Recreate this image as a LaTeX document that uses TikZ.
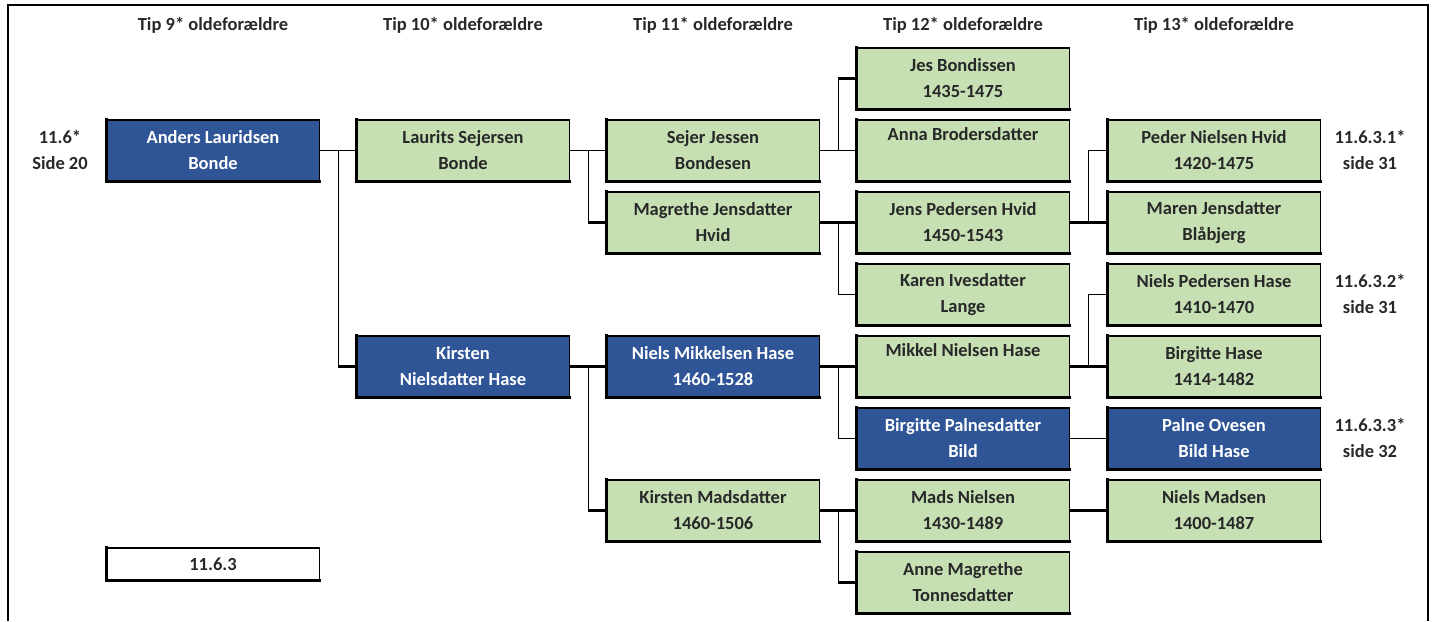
\documentclass[tikz,border=0pt]{standalone}
\usepackage{fontspec}
\setmainfont{Carlito}
\usetikzlibrary{calc}
\definecolor{boxblue}{RGB}{47,85,151}
\definecolor{boxgreen}{RGB}{198,224,180}
\definecolor{txtdark}{RGB}{40,40,40}
\tikzset{
  pbase/.style={rectangle, minimum width=212pt, minimum height=61pt, inner sep=0pt,
    draw=black, line width=0.8pt, align=center,
    font=\bfseries\fontsize{18.5}{26}\selectfont},
  gbox/.style={pbase, fill=boxgreen, text=txtdark},
  bbox/.style={pbase, fill=boxblue, text=white},
  wbox/.style={pbase, fill=white, text=txtdark, minimum height=32pt},
  hdr/.style={font=\bfseries\fontsize{18.5}{22}\selectfont, text=txtdark, inner sep=0pt},
  side/.style={font=\bfseries\fontsize{18.5}{26}\selectfont, text=txtdark, inner sep=0pt, align=center},
  thin/.style={line width=1pt},
  thick/.style={line width=2.3pt},
}
\newcommand{\pbox}[5]{%
  \node[#4] (#1) at (#2,#3) {#5};
  \draw[line width=2.6pt, line cap=rect] (#1.north west) -- (#1.south west) -- (#1.south east);
  \draw[line width=1.8pt, line cap=rect] (#1.north west) -- (#1.north east);
}
\begin{document}
\begin{tikzpicture}[x=1pt,y=-1pt]
\useasboundingbox (0,0) rectangle (1432,621);
% frame
\coordinate (fbl) at (8,621);
\coordinate (ftl) at (8,5);
\coordinate (ftr) at (1428,5);
\coordinate (fbr) at (1428,621);
\draw[line width=2pt] (fbl) -- (ftl) -- (ftr) -- (fbr);
% headers
\node[hdr] (h1) at (213,25) {Tip 9* oldeforældre};
\node[hdr] (h2) at (463,25) {Tip 10* oldeforældre};
\node[hdr] (h3) at (713,25) {Tip 11* oldeforældre};
\node[hdr] (h4) at (963,25) {Tip 12* oldeforældre};
\node[hdr] (h5) at (1214,25) {Tip 13* oldeforældre};
% column 1
\pbox{anders}{213}{150.5}{bbox}{Anders Lauridsen\\Bonde}
\pbox{ref}{213}{564}{wbox}{11.6.3}
% column 2
\pbox{laurits}{463}{150.5}{gbox}{Laurits Sejersen\\Bonde}
\pbox{kirsten}{463}{366.5}{bbox}{Kirsten\\Nielsdatter Hase}
% column 3
\pbox{sejer}{713}{150.5}{gbox}{Sejer Jessen\\Bondesen}
\pbox{magrethe}{713}{222.5}{gbox}{Magrethe Jensdatter\\Hvid}
\pbox{nielsm}{713}{366.5}{bbox}{Niels Mikkelsen Hase\\1460-1528}
\pbox{kirstenm}{713}{510.5}{gbox}{Kirsten Madsdatter\\1460-1506}
% column 4
\pbox{jes}{963}{78.5}{gbox}{Jes Bondissen\\1435-1475}
\pbox{anna}{963}{150.5}{gbox}{Anna Brodersdatter\\\strut}
\pbox{jens}{963}{222.5}{gbox}{Jens Pedersen Hvid\\1450-1543}
\pbox{karen}{963}{294.5}{gbox}{Karen Ivesdatter\\Lange}
\pbox{mikkel}{963}{366.5}{gbox}{Mikkel Nielsen Hase\\\strut}
\pbox{birgittep}{963}{438.5}{bbox}{Birgitte Palnesdatter\\Bild}
\pbox{mads}{963}{510.5}{gbox}{Mads Nielsen\\1430-1489}
\pbox{anne}{963}{582.5}{gbox}{Anne Magrethe\\Tonnesdatter}
% column 5
\pbox{peder}{1214}{150.5}{gbox}{Peder Nielsen Hvid\\1420-1475}
\pbox{maren}{1214}{222.5}{gbox}{Maren Jensdatter\\Blåbjerg}
\pbox{nielsp}{1214}{294.5}{gbox}{Niels Pedersen Hase\\1410-1470}
\pbox{birgitteh}{1214}{366.5}{gbox}{Birgitte Hase\\1414-1482}
\pbox{palne}{1214}{438.5}{bbox}{Palne Ovesen\\Bild Hase}
\pbox{nielsmad}{1214}{510.5}{gbox}{Niels Madsen\\1400-1487}
% side labels
\node[side] (s1) at (60,150) {11.6*\\Side 20};
\node[side] (s2) at (1370,150) {11.6.3.1*\\side 31};
\node[side] (s3) at (1370,294) {11.6.3.2*\\side 31};
\node[side] (s4) at (1370,438) {11.6.3.3*\\side 32};
% connectors
% Anders
\draw[thin] (anders.east) -- (laurits.west);
\coordinate (j1) at ($(anders.east)!0.5!(laurits.west)$);
\draw[thin] (j1) -- (j1 |- kirsten.west);
\draw[thick] (j1 |- kirsten.west) -- (kirsten.west);
% Laurits
\draw[thin] (laurits.east) -- (sejer.west);
\coordinate (j2) at ($(laurits.east)!0.5!(sejer.west)$);
\draw[thin] (j2) -- (j2 |- magrethe.west);
\draw[thick] (j2 |- magrethe.west) -- (magrethe.west);
% Sejer
\draw[thin] (sejer.east) -- (anna.west);
\coordinate (j3) at ($(sejer.east)!0.5!(anna.west)$);
\draw[thin] (j3) -- (j3 |- jes.west);
\draw[thick] (j3 |- jes.west) -- (jes.west);
% Magrethe
\draw[thick] (magrethe.east) -- (jens.west);
\coordinate (j4) at ($(magrethe.east)!0.5!(jens.west)$);
\draw[thin] (j4) |- (karen.west);
% Jens
\draw[thick] (jens.east) -- (maren.west);
\coordinate (j5) at ($(jens.east)!0.5!(maren.west)$);
\draw[thin] (j5) |- (peder.west);
% Kirsten
\draw[thick] (kirsten.east) -- (nielsm.west);
\coordinate (j6) at ($(kirsten.east)!0.5!(nielsm.west)$);
\draw[thin] (j6) -- (j6 |- kirstenm.west);
\draw[thick] (j6 |- kirstenm.west) -- (kirstenm.west);
% Niels Mikkelsen
\draw[thick] (nielsm.east) -- (mikkel.west);
\coordinate (j7) at ($(nielsm.east)!0.5!(mikkel.west)$);
\draw[thin] (j7) |- (birgittep.west);
% Mikkel
\draw[thick] (mikkel.east) -- (birgitteh.west);
\coordinate (j8) at ($(mikkel.east)!0.5!(birgitteh.west)$);
\draw[thin] (j8) |- (nielsp.west);
% Birgitte P
\draw[thin] (birgittep.east) -- (palne.west);
% Kirsten Madsdatter
\draw[thick] (kirstenm.east) -- (mads.west);
\coordinate (j9) at ($(kirstenm.east)!0.5!(mads.west)$);
\draw[thin] (j9) -- (j9 |- anne.west);
\draw[thick] (j9 |- anne.west) -- (anne.west);
% Mads
\draw[thick] (mads.east) -- (nielsmad.west);
\end{tikzpicture}
\end{document}
